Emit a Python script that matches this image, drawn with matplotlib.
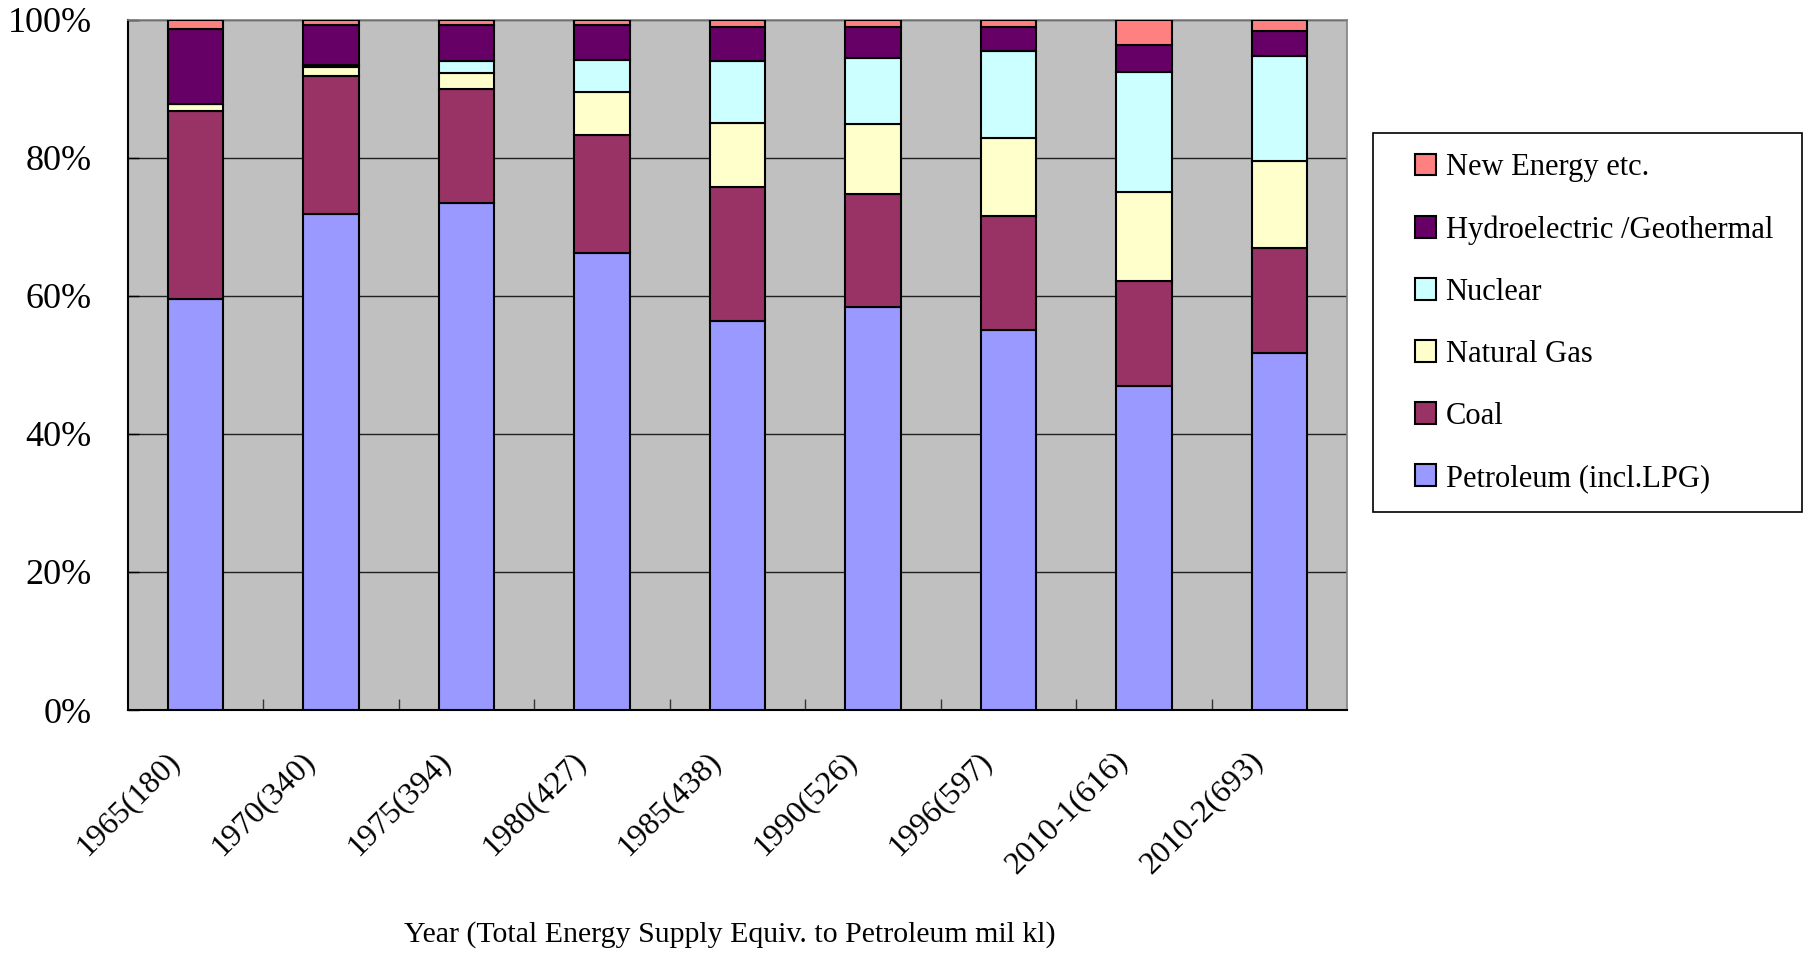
from matplotlib import pyplot as plt
from matplotlib.patches import Rectangle
from matplotlib.transforms import ScaledTranslation
import numpy as np

plt.rcParams['font.family'] = 'Liberation Serif'

years = ['1965(180)', '1970(340)', '1975(394)', '1980(427)', '1985(438)',
         '1990(526)', '1996(597)', '2010-1(616)', '2010-2(693)']

# shares in percent
petroleum = [59.5, 71.9, 73.3, 65.9, 56.3, 58.3, 55.1, 47.0, 51.7]
coal      = [27.2, 20.0, 16.5, 17.1, 19.4, 16.5, 16.5, 15.1, 15.2]
gas       = [1.1, 1.2, 2.4, 6.1, 9.2, 10.1, 11.3, 13.0, 12.6]
nuclear   = [0.0, 0.3, 1.7, 4.7, 9.0, 9.5, 12.5, 17.3, 15.3]
hydro     = [10.8, 5.8, 5.2, 5.0, 4.9, 4.5, 3.5, 3.9, 3.5]
new_energy = [1.4, 0.8, 0.8, 0.8, 1.1, 1.1, 1.1, 3.7, 1.7]

series = [
    ('Petroleum (incl.LPG)', petroleum, '#9999FF'),
    ('Coal', coal, '#993366'),
    ('Natural Gas', gas, '#FFFFCC'),
    ('Nuclear', nuclear, '#CCFFFF'),
    ('Hydroelectric /Geothermal', hydro, '#660066'),
    ('New Energy etc.', new_energy, '#FF8080'),
]

fig = plt.figure(figsize=(18.05, 9.55), dpi=100)
ax = fig.add_axes([128/1805, 1-710/955, 1219/1805, 690.4/955])
ax.set_facecolor('#C0C0C0')

x = np.arange(len(years))
data = np.array([s[1] for s in series], dtype=float)
totals = data.sum(axis=0)
bottom = np.zeros(len(years))
handles = []
for (name, vals, col) in series:
    v = np.array(vals) / totals * 100
    b = ax.bar(x, v, 0.41, bottom=bottom, color=col, edgecolor='black',
               linewidth=1.5, label=name, zorder=3)
    handles.append(b)
    bottom += v

ax.set_xlim(-0.5, len(years) - 0.5)
ax.set_ylim(0, 100)
ax.set_yticks(np.arange(0, 101, 20))
ax.set_yticklabels(['%d%%' % t for t in range(0, 101, 20)])
ax.yaxis.grid(True, color='#202020', linewidth=1.0, zorder=1)
ax.set_axisbelow(True)

ax.set_xticks(x)
ax.set_xticklabels(years, rotation=45, ha='right', va='top', rotation_mode='anchor')
ax.set_xticks(np.arange(0.5, len(years) - 1, 1), minor=True)
ax.tick_params(axis='x', which='major', length=0, pad=26, labelsize=23)
ax.tick_params(axis='x', which='minor', direction='in', length=8, width=1, color='#333333')
ax.tick_params(axis='y', direction='in', length=8, width=1, pad=26, labelsize=26)
for lab in ax.get_xticklabels():
    lab.set_transform(lab.get_transform() + ScaledTranslation(-0.31, 0, fig.dpi_scale_trans))

for side in ['left', 'bottom']:
    ax.spines[side].set_color('black')
    ax.spines[side].set_linewidth(1.5)
for side in ['top', 'right']:
    ax.spines[side].set_color('#808080')
    ax.spines[side].set_linewidth(1.2)

ax.set_xlabel('Year (Total Energy Supply Equiv. to Petroleum mil kl)', fontsize=21.5)
ax.xaxis.set_label_coords(0.494, -0.3245)
ax.xaxis.label.set_va('center')

fig.patches.append(Rectangle((1373/1805, 1-512/955), 429/1805, 379/955,
                             transform=fig.transFigure, facecolor='white',
                             edgecolor='black', linewidth=1.2, zorder=0))
fig.legend(handles[::-1], [s[0] for s in series][::-1], loc='center left',
           bbox_to_anchor=(1415/1805, 1-323/955), frameon=False, fontsize=22,
           handlelength=0.7, handleheight=0.7, handletextpad=0.3,
           labelspacing=1.08, borderpad=0, borderaxespad=0)

plt.savefig('out.png', dpi=100)
